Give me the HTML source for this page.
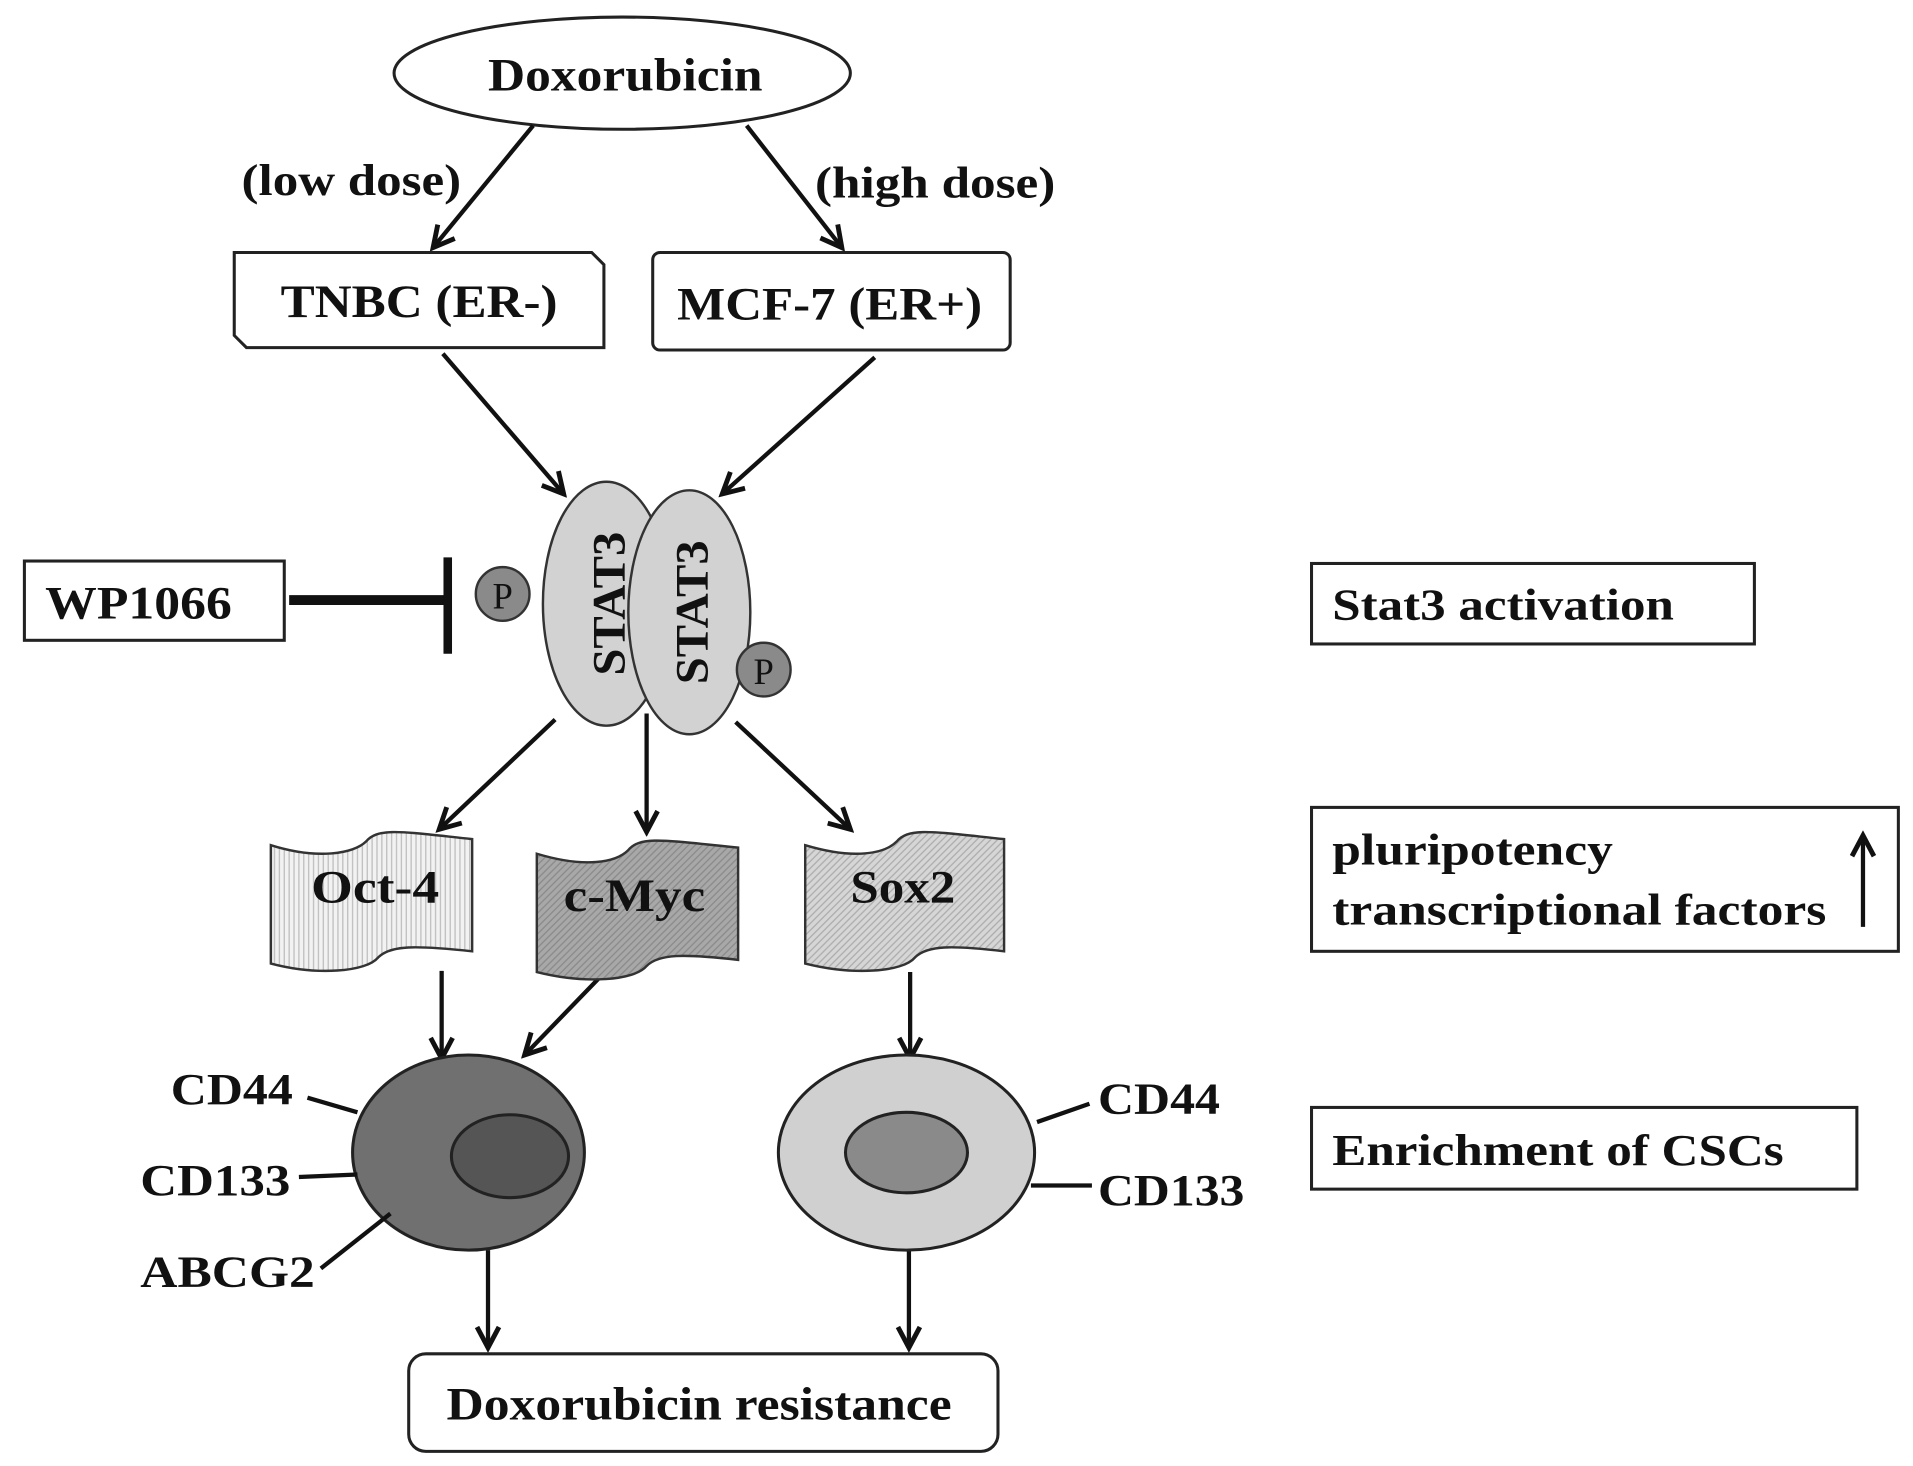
<!DOCTYPE html>
<html><head><style>
html,body{margin:0;padding:0;background:#fff;}
svg{display:block;}
text{font-family:"Liberation Serif",serif;font-weight:bold;fill:#111;}
</style></head><body>
<svg width="1913" height="1466" viewBox="0 0 1568 1202" preserveAspectRatio="none" xmlns="http://www.w3.org/2000/svg">
<defs>
<marker id="ah2" viewBox="0 0 24 24" refX="20" refY="12" markerWidth="24" markerHeight="24" orient="auto" markerUnits="userSpaceOnUse">
<path d="M3,3 L20,12 L3,21" fill="none" stroke="#111" stroke-width="4"/>
</marker>
<pattern id="p1" width="4" height="4" patternUnits="userSpaceOnUse"><rect width="4" height="4" fill="#f2f2f2"/><line x1="1" y1="0" x2="1" y2="4" stroke="#bbb" stroke-width="1"/></pattern>
<pattern id="p2" width="4" height="4" patternUnits="userSpaceOnUse" patternTransform="rotate(45)"><rect width="4" height="4" fill="#a8a8a8"/><line x1="1" y1="0" x2="1" y2="4" stroke="#888" stroke-width="1"/></pattern>
<pattern id="p3" width="4" height="4" patternUnits="userSpaceOnUse" patternTransform="rotate(45)"><rect width="4" height="4" fill="#d6d6d6"/><line x1="1" y1="0" x2="1" y2="4" stroke="#aaa" stroke-width="1"/></pattern>
</defs>
<g stroke="#222" stroke-width="2.5" fill="#fff">
<ellipse cx="510" cy="60" rx="187" ry="46"/>
<path d="M192,207 H485 L495,217 V285 H202 L192,275 Z"/>
<rect x="535" y="207" width="293" height="80" rx="6"/>
<rect x="20" y="460" width="213" height="65"/>
<rect x="1075" y="462" width="363" height="66"/>
<rect x="1075" y="662" width="481" height="118"/>
<rect x="1075" y="908" width="447" height="67"/>
<rect x="335" y="1110" width="483" height="80" rx="14"/>
</g>
<g font-size="38" lengthAdjust="spacingAndGlyphs">
<text x="400" y="74" textLength="225" lengthAdjust="spacingAndGlyphs">Doxorubicin</text>
<text x="198" y="160" textLength="180" lengthAdjust="spacingAndGlyphs" font-size="36">(low dose)</text>
<text x="668" y="162" textLength="197" lengthAdjust="spacingAndGlyphs" font-size="36">(high dose)</text>
<text x="230" y="260" textLength="227" lengthAdjust="spacingAndGlyphs">TNBC (ER-)</text>
<text x="555" y="262" textLength="250" lengthAdjust="spacingAndGlyphs">MCF-7 (ER+)</text>
<text x="37" y="507" textLength="153" lengthAdjust="spacingAndGlyphs">WP1066</text>
<text x="1092" y="508" textLength="280" lengthAdjust="spacingAndGlyphs" font-size="36">Stat3 activation</text>
<text x="1092" y="709" textLength="230" lengthAdjust="spacingAndGlyphs" font-size="36">pluripotency</text>
<text x="1092" y="758" textLength="405" lengthAdjust="spacingAndGlyphs" font-size="36">transcriptional factors</text>
<text x="1092" y="955" textLength="370" lengthAdjust="spacingAndGlyphs" font-size="36">Enrichment of CSCs</text>
<text x="366" y="1164" textLength="414" lengthAdjust="spacingAndGlyphs">Doxorubicin resistance</text>
<text x="255" y="740" textLength="105" lengthAdjust="spacingAndGlyphs">Oct-4</text>
<text x="462" y="747" textLength="116" lengthAdjust="spacingAndGlyphs">c-Myc</text>
<text x="697" y="740" textLength="86" lengthAdjust="spacingAndGlyphs">Sox2</text>
<text x="140" y="905" textLength="100" lengthAdjust="spacingAndGlyphs" font-size="36">CD44</text>
<text x="115" y="980" textLength="123" lengthAdjust="spacingAndGlyphs" font-size="36">CD133</text>
<text x="115" y="1055" textLength="143" lengthAdjust="spacingAndGlyphs" font-size="36">ABCG2</text>
<text x="900" y="913" textLength="100" lengthAdjust="spacingAndGlyphs" font-size="36">CD44</text>
<text x="900" y="988" textLength="120" lengthAdjust="spacingAndGlyphs" font-size="36">CD133</text>
</g>
<g stroke="#111" stroke-width="3.5" fill="none" marker-end="url(#ah2)">
<line x1="437" y1="103" x2="355" y2="203"/>
<line x1="612" y1="103" x2="690" y2="203"/>
<line x1="363" y1="290" x2="462" y2="405"/>
<line x1="717" y1="293" x2="592" y2="405"/>
<line x1="455" y1="590" x2="360" y2="680"/>
<line x1="530" y1="585" x2="530" y2="682"/>
<line x1="603" y1="592" x2="697" y2="680"/>
<line x1="362" y1="796" x2="362" y2="868"/>
<line x1="520" y1="772" x2="430" y2="865"/>
<line x1="746" y1="797" x2="746" y2="868"/>
<line x1="400" y1="1025" x2="400" y2="1105"/>
<line x1="745" y1="1025" x2="745" y2="1105"/>
<line x1="1527" y1="760" x2="1527" y2="685"/>
</g>
<line x1="237" y1="492" x2="367" y2="492" stroke="#111" stroke-width="8"/>
<line x1="367" y1="457" x2="367" y2="536" stroke="#111" stroke-width="7"/>
<g stroke="#333" stroke-width="2">
<ellipse cx="497" cy="495" rx="52" ry="100" fill="#d2d2d2"/>
<ellipse cx="565" cy="502" rx="50" ry="100" fill="#d2d2d2"/>
<circle cx="412" cy="487" r="22" fill="#8a8a8a"/>
<circle cx="626" cy="549" r="22" fill="#8a8a8a"/>
</g>
<text x="412" y="499" font-size="30" text-anchor="middle" style="font-weight:normal">P</text>
<text x="626" y="561" font-size="30" text-anchor="middle" style="font-weight:normal">P</text>
<text transform="translate(512,495) rotate(-90)" font-size="38" text-anchor="middle" textLength="118" lengthAdjust="spacingAndGlyphs">STAT3</text>
<text transform="translate(580,502) rotate(-90)" font-size="38" text-anchor="middle" textLength="118" lengthAdjust="spacingAndGlyphs">STAT3</text>
<g stroke="#333" stroke-width="2">
<path d="M222,693 C260,705 290,700 300,690 C310,678 330,682 387,688 V780 C340,775 320,775 310,785 C300,797 260,800 222,790 Z" fill="url(#p1)"/>
<path d="M440,700 C480,712 505,707 515,697 C525,685 545,689 605,695 V787 C560,782 540,782 530,792 C520,804 480,807 440,797 Z" fill="url(#p2)"/>
<path d="M660,693 C700,705 725,700 735,690 C745,678 765,682 823,688 V780 C780,775 760,775 750,785 C740,797 700,800 660,790 Z" fill="url(#p3)"/>
</g>
<g font-size="38">
<text x="255" y="740" textLength="105" lengthAdjust="spacingAndGlyphs">Oct-4</text>
<text x="462" y="747" textLength="116" lengthAdjust="spacingAndGlyphs">c-Myc</text>
<text x="697" y="740" textLength="86" lengthAdjust="spacingAndGlyphs">Sox2</text>
</g>
<g stroke="#222" stroke-width="2.5">
<ellipse cx="384" cy="945" rx="95" ry="80" fill="#707070"/>
<ellipse cx="418" cy="948" rx="48" ry="34" fill="#555"/>
<ellipse cx="743" cy="945" rx="105" ry="80" fill="#d0d0d0"/>
<ellipse cx="743" cy="945" rx="50" ry="33" fill="#8a8a8a"/>
</g>
<g stroke="#111" stroke-width="3.5">
<line x1="252" y1="900" x2="293" y2="912"/>
<line x1="245" y1="965" x2="293" y2="963"/>
<line x1="263" y1="1040" x2="320" y2="995"/>
<line x1="850" y1="920" x2="893" y2="905"/>
<line x1="845" y1="972" x2="895" y2="972"/>
</g>
</svg>
</body></html>
